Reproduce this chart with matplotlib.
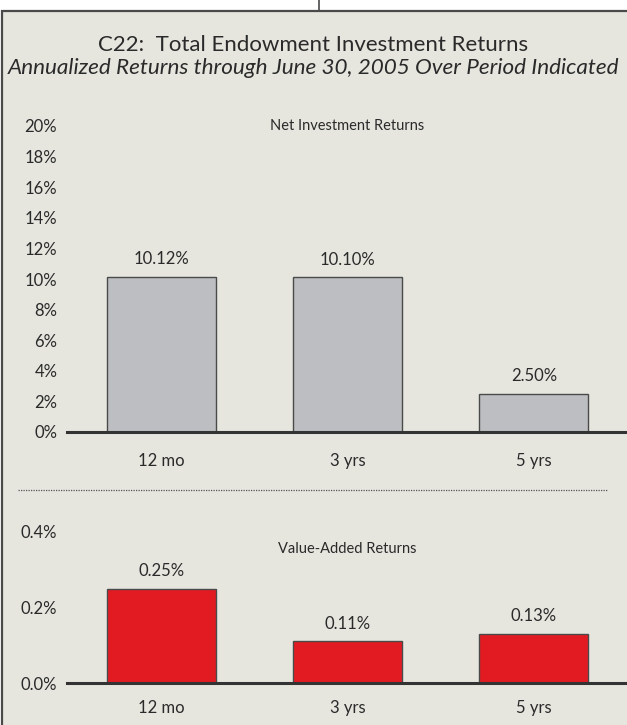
import numpy as np
import matplotlib
matplotlib.use('Agg')
import matplotlib.pyplot as plt
from matplotlib.patches import Rectangle
from matplotlib.lines import Line2D

# ─────────────────────────────────────────────
# DATA
# ─────────────────────────────────────────────
periods = ['12 mo', '3 yrs', '5 yrs']
net_returns = [10.12, 10.10, 2.50]
value_added = [0.25, 0.11, 0.13]
net_ticks = [0, 2, 4, 6, 8, 10, 12, 14, 16, 18, 20]
va_ticks = [0.0, 0.2, 0.4]

title = 'C22:  Total Endowment Investment Returns'
subtitle = 'Annualized Returns through June 30, 2005 Over Period Indicated'

BG = '#e6e6df'
GREY = '#bdbec1'
RED = '#e21b23'
TXT = '#2a2a2a'
EDGE = '#4a4a4a'

plt.rcParams['font.family'] = ['Lato', 'DejaVu Sans']

W, H = 627, 725
fig = plt.figure(figsize=(W / 100, H / 100), dpi=100)
fig.patch.set_facecolor('white')

# panel background + frame
top_y = 1 - 11 / H
fig.add_artist(Rectangle((1.5 / W, -0.01), 1.0, top_y + 0.01, transform=fig.transFigure,
                         facecolor=BG, edgecolor=EDGE, linewidth=1.6, zorder=0))
fig.add_artist(Line2D([319 / W, 319 / W], [top_y, 1.0], transform=fig.transFigure,
                      color=EDGE, linewidth=1.2))

fig.text(0.5, 1 - 45 / H, title, ha='center', va='center', fontsize=16, color=TXT)
fig.text(0.5, 1 - 68 / H, subtitle, ha='center', va='center', fontsize=16.2,
         style='italic', color=TXT)

x = np.arange(len(periods))
left = 67 / W


def style_axes(ax, ticks, fmt, ylim, pad_x):
    ax.set_facecolor('none')
    ax.set_xlim(-0.505, 2.5)
    ax.set_ylim(*ylim)
    for s in ['top', 'right', 'left']:
        ax.spines[s].set_visible(False)
    ax.spines['bottom'].set_linewidth(2.2)
    ax.spines['bottom'].set_color('#333333')
    ax.set_yticks(ticks)
    ax.set_yticklabels([fmt.format(t) for t in ticks])
    ax.set_xticks(x)
    ax.set_xticklabels(periods)
    ax.tick_params(axis='y', length=0, pad=7, labelsize=12, labelcolor=TXT)
    ax.tick_params(axis='x', length=0, pad=pad_x, labelsize=12, labelcolor=TXT)


# ─────────────────────────────────────────────
# TOP: NET INVESTMENT RETURNS
# ─────────────────────────────────────────────
ax1 = fig.add_axes([left, 1 - 432 / H, 1 - left, (432 - 126) / H])
ax1.patch.set_alpha(0)
ax1.bar(x, net_returns, width=0.585, color=GREY, edgecolor=EDGE, linewidth=1.0, zorder=2)
style_axes(ax1, net_ticks, '{:d}%', (0, 20), 15)
for xi, v in zip(x, net_returns):
    ax1.annotate(f'{v:.2f}%', (xi, v), xytext=(0, 7), textcoords='offset points',
                 ha='center', va='bottom', fontsize=12, color=TXT)
ax1.text(1, 20, 'Net Investment Returns', ha='center', va='center', fontsize=10.5, color=TXT)

# dotted separator
fig.add_artist(Line2D([18 / W, 608 / W], [1 - 490 / H, 1 - 490 / H], transform=fig.transFigure,
                      color='#555555', linewidth=0.9, linestyle=(0, (1, 1))))

# ─────────────────────────────────────────────
# BOTTOM: VALUE-ADDED RETURNS
# ─────────────────────────────────────────────
ax2 = fig.add_axes([left, 1 - 683 / H, 1 - left, (683 - 532) / H])
ax2.patch.set_alpha(0)
ax2.bar(x, value_added, width=0.585, color=RED, edgecolor=EDGE, linewidth=1.0, zorder=2)
style_axes(ax2, va_ticks, '{:.1f}%', (0, 0.4), 12)
for xi, v in zip(x, value_added):
    ax2.annotate(f'{v:.2f}%', (xi, v), xytext=(0, 7), textcoords='offset points',
                 ha='center', va='bottom', fontsize=12, color=TXT)
ax2.text(1, 0.355, 'Value-Added Returns', ha='center', va='center', fontsize=10.5, color=TXT)

fig.savefig('out.png', dpi=100, facecolor=fig.get_facecolor())
